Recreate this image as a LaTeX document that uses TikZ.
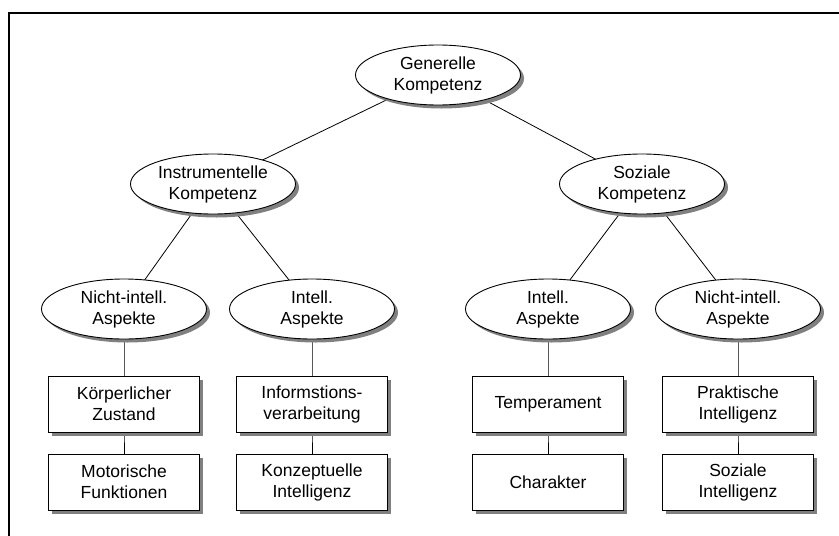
\documentclass[tikz,border=0pt]{standalone}
\usepackage{fontspec}
\setmainfont{Liberation Sans}
\usetikzlibrary{shapes.geometric,shadows}
\pgfdeclarelayer{background}
\pgfsetlayers{background,main}
\begin{document}
\begin{tikzpicture}[x=1pt,y=-1pt,
  every node/.style={font=\fontsize{17.5}{21}\selectfont, align=center, inner sep=0pt},
  shade/.style={drop shadow={shadow xshift=3.5pt, shadow yshift=-3.5pt, fill=black!50, opacity=1}},
  oval/.style={ellipse, draw, line width=0.9pt, fill=white, minimum width=165pt, minimum height=60pt, shade},
  card/.style={rectangle, draw, line width=0.9pt, fill=white, minimum width=151pt, minimum height=56pt, shade},
  link/.style={draw, line width=0.8pt}]
\useasboundingbox (0,0) rectangle (839,536);
% frame
\draw[line width=2pt] (9,537) -- (9,12.5) -- (840,12.5);

% ellipses
\node[oval] (G) at (438,75) {Generelle\\Kompetenz};
\node[oval] (I) at (213,184) {Instrumentelle\\Kompetenz};
\node[oval] (S) at (642,184) {Soziale\\Kompetenz};
\node[oval] (A1) at (124,309) {Nicht-intell.\\Aspekte};
\node[oval] (A2) at (312,309) {Intell.\\Aspekte};
\node[oval] (A3) at (548,309) {Intell.\\Aspekte};
\node[oval] (A4) at (738,309) {Nicht-intell.\\Aspekte};

% boxes
\node[card] (B1) at (124,404) {Körperlicher\\Zustand};
\node[card] (C1) at (124,482) {Motorische\\Funktionen};
\node[card] (B2) at (312,404) {Informstions-\\verarbeitung};
\node[card] (C2) at (312,482) {Konzeptuelle\\Intelligenz};
\node[card] (B3) at (548,404) {Temperament};
\node[card] (C3) at (548,482) {Charakter};
\node[card] (B4) at (738,404) {Praktische\\Intelligenz};
\node[card] (C4) at (738,482) {Soziale\\Intelligenz};

% connectors
\begin{pgfonlayer}{background}
\path[link] (G.center) -- (I.center);
\path[link] (G.center) -- (S.center);
\path[link] (I.center) -- (A1.center);
\path[link] (I.center) -- (A2.center);
\path[link] (S.center) -- (A3.center);
\path[link] (S.center) -- (A4.center);
\foreach \k in {1,2,3,4}{
  \path[link] (A\k.center) -- (B\k.center) -- (C\k.center);
}
\end{pgfonlayer}
\end{tikzpicture}
\end{document}
